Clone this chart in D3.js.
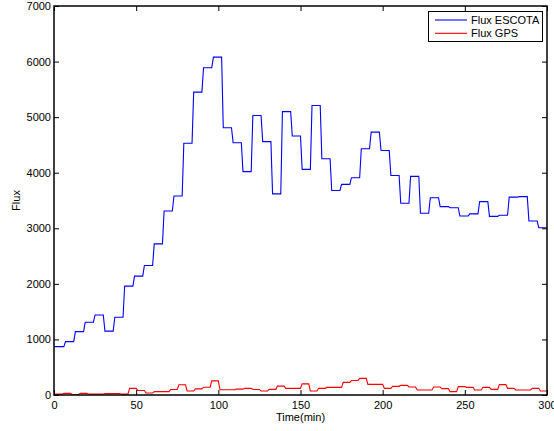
<!DOCTYPE html>
<html><head><meta charset="utf-8">
<script src="https://cdn.jsdelivr.net/npm/d3@7"></script>
<style>
body{margin:0;background:#fff}
text{font-family:"Liberation Sans",Arial,Helvetica,sans-serif;font-size:11px;fill:#000}
</style>
</head><body><svg id="c" width="554" height="431"></svg>
<script>
// ---- data ----
const escotaBlockMinutes = 6;
const escota = [870, 960, 1140, 1310, 1440, 1150, 1400, 1960, 2140, 2330,
  2720, 3310, 3580, 4530, 5450, 5890, 6080, 4810, 4540, 4020,
  5030, 4560, 3620, 5100, 4660, 4060, 5210, 4250, 3680, 3790,
  3910, 4430, 4730, 4400, 3950, 3450, 3935, 3270, 3550, 3390,
  3370, 3220, 3260, 3480, 3215, 3235, 3560, 3570, 3130, 3010];
const gpsBlockMinutes = 5;
const gps = [15, 30, 10, 30, 15, 15, 25, 25, 15, 120,
  80, 35, 60, 60, 100, 185, 72, 110, 140, 255,
  95, 95, 105, 120, 100, 72, 102, 160, 120, 120,
  200, 72, 120, 138, 138, 228, 260, 300, 192, 192,
  120, 156, 174, 144, 90, 90, 144, 114, 60, 150,
  138, 90, 138, 102, 186, 120, 90, 90, 120, 72];
const xTicks = [0, 50, 100, 150, 200, 250, 300];
const yTicks = [0, 1000, 2000, 3000, 4000, 5000, 6000, 7000];
const seriesNames = ["Flux ESCOTA", "Flux GPS"];
const seriesColors = ["#0000ff", "#ff0000"];
const xLabel = "Time(min)";
const yLabel = "Flux";

// ---- layout ----
const L = 54, R = 547, T = 6, B = 395;
const svg = d3.select("#c");
const x = d3.scaleLinear().domain([0, 300]).range([L, R]);
const y = d3.scaleLinear().domain([0, 7000]).range([B, T]);

function stepPoints(vals, len) {
  const pts = [];
  vals.forEach((v, i) => {
    pts.push([i === 0 ? 0 : i * len + 1, v]);
    pts.push([(i + 1) * len, v]);
  });
  return pts;
}

const line = d3.line().x(d => x(d[0])).y(d => y(d[1]));

// series
const series = [stepPoints(escota, escotaBlockMinutes), stepPoints(gps, gpsBlockMinutes)];
series.forEach((pts, i) => {
  svg.append("path").datum(pts).attr("d", line)
    .attr("fill", "none").attr("stroke", seriesColors[i]).attr("stroke-width", 1.1)
    .attr("stroke-linejoin", "miter");
});

// axes (ticks inside)
const ax = (g) => g.call(s => s.select(".domain").remove())
  .call(s => s.selectAll("line").attr("stroke", "#000").attr("stroke-width", 1))
  .call(s => s.selectAll("text").attr("fill", "#000").style("font-size", "11px").style("font-family", "'Liberation Sans',Arial,sans-serif"));

svg.append("g").attr("transform", `translate(0,${B})`)
  .call(d3.axisBottom(x).tickValues(xTicks).tickSize(-5).tickPadding(6).tickFormat(d3.format("d"))).call(ax);
svg.append("g").attr("transform", `translate(0,${T})`)
  .call(d3.axisTop(x).tickValues(xTicks).tickSize(-5).tickFormat("")).call(ax);
svg.append("g").attr("transform", `translate(${L},0)`)
  .call(d3.axisLeft(y).tickValues(yTicks).tickSize(-5).tickPadding(3).tickFormat(d3.format("d"))).call(ax);
svg.append("g").attr("transform", `translate(${R},0)`)
  .call(d3.axisRight(y).tickValues(yTicks).tickSize(-5).tickFormat("")).call(ax);

// frame
svg.append("rect").attr("x", L).attr("y", T).attr("width", R - L).attr("height", B - T)
  .attr("fill", "none").attr("stroke", "#000").attr("stroke-width", 1.5);

// labels
svg.append("text").attr("x", (L + R) / 2).attr("y", 421).attr("text-anchor", "middle").text(xLabel);
svg.append("text").attr("transform", `translate(20,${(T + B) / 2}) rotate(-90)`)
  .attr("text-anchor", "middle").text(yLabel);

// legend
const lg = svg.append("g");
lg.append("rect").attr("x", 428.5).attr("y", 11.5).attr("width", 114).attr("height", 30)
  .attr("fill", "#fff").attr("stroke", "#000").attr("stroke-width", 1);
seriesNames.forEach((n, i) => {
  const yy = 20 + i * 13.3;
  lg.append("line").attr("x1", 435).attr("x2", 467).attr("y1", yy).attr("y2", yy)
    .attr("stroke", seriesColors[i]).attr("stroke-width", 1.1);
  lg.append("text").attr("x", 471).attr("y", yy).attr("dy", "0.35em").text(n);
});
</script>
</body></html>
